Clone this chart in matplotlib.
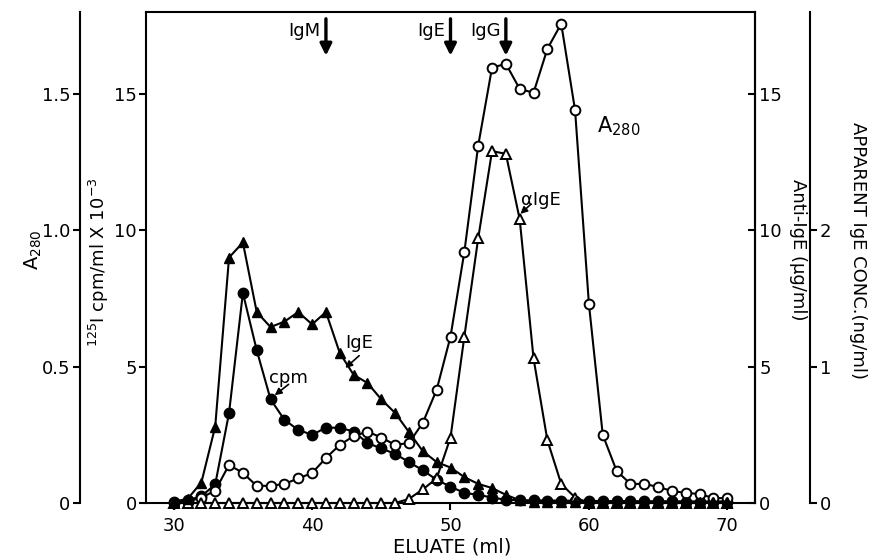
import numpy as np
import matplotlib
matplotlib.use("Agg")
import matplotlib.pyplot as plt

plt.rcParams['font.family'] = ['DejaVu Sans']

# ---- data -------------------------------------------------------------
eluate_ml = list(range(30, 71))

a280 = [0.0, 0.005, 0.02, 0.045, 0.14, 0.11, 0.063, 0.063, 0.07, 0.09,
        0.11, 0.165, 0.213, 0.245, 0.262, 0.24, 0.213, 0.22, 0.294, 0.415,
        0.61, 0.92, 1.31, 1.596, 1.61, 1.518, 1.504, 1.665, 1.757, 1.44,
        0.73, 0.25, 0.118, 0.07, 0.07, 0.059, 0.044, 0.037, 0.033, 0.018,
        0.018]

cpm_e3 = [0.05, 0.1, 0.25, 0.68, 3.3, 7.7, 5.6, 3.8, 3.05, 2.68,
          2.5, 2.76, 2.76, 2.62, 2.2, 2.0, 1.8, 1.5, 1.2, 0.85,
          0.6, 0.37, 0.3, 0.2, 0.12, 0.1, 0.1, 0.09, 0.09, 0.08,
          0.08, 0.07, 0.07, 0.07, 0.06, 0.06, 0.06, 0.05, 0.05, 0.05,
          0.05]

ige_conc = [0.01, 0.03, 0.15, 0.56, 1.80, 1.91, 1.40, 1.29, 1.33, 1.40,
            1.31, 1.40, 1.10, 0.94, 0.88, 0.76, 0.66, 0.52, 0.38, 0.30,
            0.26, 0.19, 0.14, 0.11, 0.06, 0.02, 0.01, 0.01, 0.01, 0.01,
            0.01, 0.01, 0.01, 0.01, 0.01, 0.01, 0.01, 0.01, 0.01, 0.01,
            0.01]

anti_ige = [0.0, 0.0, 0.0, 0.0, 0.0, 0.0, 0.0, 0.0, 0.0, 0.0,
            0.0, 0.0, 0.0, 0.0, 0.0, 0.0, 0.0, 0.15, 0.5, 0.9,
            2.4, 6.1, 9.7, 12.9, 12.8, 10.4, 5.3, 2.3, 0.7, 0.2,
            0.0, 0.0, 0.0, 0.0, 0.0, 0.0, 0.0, 0.0, 0.0, 0.0,
            0.0]

x_ticks = [30, 40, 50, 60, 70]
a280_ticks = [0, 0.5, 1.0, 1.5]
a280_ticklabels = ["0", "0.5", "1.0", "1.5"]
cpm_ticks = [0, 5, 10, 15]
anti_ticks = [0, 5, 10, 15]
ige_ticks = [0, 1, 2]

markers = [("IgM", 41), ("IgE", 50), ("IgG", 54)]

# ---- figure -------------------------------------------------------------
W, H = 873, 559
fig = plt.figure(figsize=(W / 100, H / 100), dpi=100)
L, R, T, B = 146, 755, 12, 503
ax = fig.add_axes([L / W, (H - B) / H, (R - L) / W, (B - T) / H])

LW = 1.5
FS = 13
for s in ax.spines.values():
    s.set_linewidth(LW)

ax.set_xlim(28, 72)
ax.set_ylim(0, 18)
ax.set_xticks(x_ticks)
ax.set_yticks(cpm_ticks)
ax.tick_params(axis='both', direction='out', length=5, width=LW, labelsize=FS)
ax.tick_params(axis='y', right=False, pad=1.5)
ax.tick_params(axis='x', top=False, pad=5)

# outer left: A280
ax_a = ax.twinx()
ax_a.set_ylim(0, 1.8)
for k in ['top', 'bottom', 'right']:
    ax_a.spines[k].set_visible(False)
ax_a.spines['left'].set_visible(True)
ax_a.spines['left'].set_position(('axes', -0.1084))
ax_a.spines['left'].set_linewidth(LW)
ax_a.yaxis.set_ticks_position('left')
ax_a.set_yticks(a280_ticks)
ax_a.set_yticklabels(a280_ticklabels)
ax_a.tick_params(axis='y', direction='out', length=5, width=LW, labelsize=FS, pad=2)

# inner right: anti-IgE
ax_b = ax.twinx()
ax_b.set_ylim(0, 18)
for k in ['top', 'bottom', 'left']:
    ax_b.spines[k].set_visible(False)
ax_b.spines['right'].set_linewidth(LW)
ax_b.set_yticks(anti_ticks)
ax_b.tick_params(axis='y', direction='in', length=5, width=LW, labelsize=FS, pad=3)

# outer right: apparent IgE conc
ax_c = ax.twinx()
ax_c.set_ylim(0, 3.6)
for k in ['top', 'bottom', 'left']:
    ax_c.spines[k].set_visible(False)
ax_c.spines['right'].set_position(('axes', 1.0903))
ax_c.spines['right'].set_linewidth(LW)
ax_c.set_yticks(ige_ticks)
ax_c.tick_params(axis='y', direction='out', length=5, width=LW, labelsize=FS, pad=2)

# ---- series -------------------------------------------------------------
ax_c.plot(eluate_ml, ige_conc, '-', color='black', lw=LW, marker='^', ms=7.5,
          mfc='black', mec='black', clip_on=False, zorder=3)
ax.plot(eluate_ml, cpm_e3, '-', color='black', lw=LW, marker='o', ms=7.5,
        mfc='black', mec='black', clip_on=False, zorder=3)
ax_a.plot(eluate_ml, a280, '-', color='black', lw=LW, marker='o', ms=7,
          mfc='white', mec='black', mew=1.4, clip_on=False, zorder=4)
ax_b.plot(eluate_ml, anti_ige, '-', color='black', lw=LW, marker='^', ms=7.5,
          mfc='white', mec='black', mew=1.4, clip_on=False, zorder=4)

# ---- annotations ---------------------------------------------------------
arrow_top, arrow_tip = 17.75, 16.4
for name, xm in markers:
    ax_c.annotate('', xy=(xm, arrow_tip / 5), xytext=(xm, arrow_top / 5),
                  arrowprops=dict(arrowstyle='-|>,head_length=0.7,head_width=0.35',
                                  color='black', lw=2.4, shrinkA=0, shrinkB=0))
    ax.text(xm - 0.4, 17.3, name, ha='right', va='center', fontsize=FS)

ax.text(60.6, 13.8, "A$_{\\mathregular{280}}$", ha='left', va='center', fontsize=FS + 2)
ax.text(55.1, 11.1, "αIgE", ha='left', va='center', fontsize=FS)
ax.annotate('', xy=(55.05, 10.6), xytext=(55.8, 10.95),
            arrowprops=dict(arrowstyle='-|>,head_length=0.4,head_width=0.2',
                            color='black', lw=1.2, shrinkA=0, shrinkB=0))
ax.text(42.4, 5.85, "IgE", ha='left', va='center', fontsize=FS)
ax.annotate('', xy=(42.4, 4.95), xytext=(43.4, 5.4),
            arrowprops=dict(arrowstyle='-|>,head_length=0.4,head_width=0.2',
                            color='black', lw=1.2, shrinkA=0, shrinkB=0))
ax.text(36.9, 4.6, "cpm", ha='left', va='center', fontsize=FS)
ax.annotate('', xy=(37.3, 3.95), xytext=(38.3, 4.35),
            arrowprops=dict(arrowstyle='-|>,head_length=0.4,head_width=0.2',
                            color='black', lw=1.2, shrinkA=0, shrinkB=0))

# axis labels (figure coordinates in pixels)
def ftext(px, py, s, **kw):
    fig.text(px / W, 1 - py / H, s, ha='center', va='center', **kw)

ftext(33, 250, "A$_{\\mathregular{280}}$", rotation=90, fontsize=FS + 1)
ftext(99, 262, "$^{\\mathregular{125}}$I cpm/ml X 10$^{\\mathregular{-3}}$",
      rotation=90, fontsize=FS)
ftext(798, 250, "Anti-IgE (µg/ml)", rotation=-90, fontsize=FS)
ftext(858, 250, "APPARENT IgE CONC.(ng/ml)", rotation=-90, fontsize=FS)
ftext(452, 547, "ELUATE (ml)", fontsize=FS + 1)

fig.savefig("out.png", dpi=100)
